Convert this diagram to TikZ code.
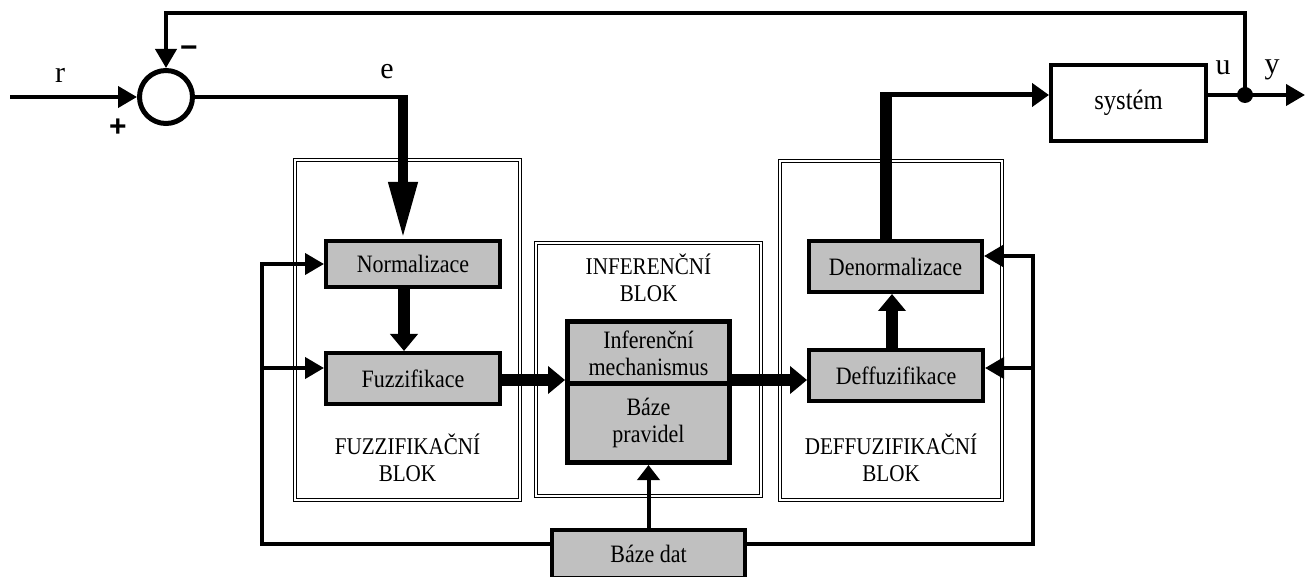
\documentclass[tikz,border=0pt]{standalone}
\usepackage{fontspec}
\setmainfont[FakeStretch=0.88]{Liberation Serif}
\newfontfamily\plainserif{Liberation Serif}
\newfontfamily\signfont{Liberation Sans}
\usetikzlibrary{arrows.meta}
\definecolor{boxgray}{HTML}{C0C0C0}
\newcommand{\fsz}[2]{\fontsize{#1pt}{#2pt}\selectfont}
\tikzset{
  gbox/.style={draw, line width=4pt, fill=boxgray, inner sep=0pt, align=center, font=\fsz{25}{27}},
  frame/.style={draw, double, double distance=2.5pt, line width=0.8pt, inner sep=0pt},
  blocklabel/.style={align=center, font=\fsz{24}{27}},
  sig/.style={font=\plainserif\fsz{30}{32}, inner sep=0pt},
  conn/.style={line width=4pt},
  arr/.style={-{Triangle[length=19pt,width=21pt]}},
  thickarr/.style={line width=12pt, -{Triangle[length=17pt,width=27pt]}},
  bigarr/.style={line width=10pt, -{Triangle[length=57pt,width=27pt]}},
}
\begin{document}
\begin{tikzpicture}[x=1pt, y=-1pt]
\useasboundingbox (0,0) rectangle (1312,577);

% frames
\node[frame, minimum width=225pt, minimum height=340pt] (ffr) at (407.5,330) {};
\node[frame, minimum width=225pt, minimum height=253pt] (ifr) at (648.5,369.5) {};
\node[frame, minimum width=222pt, minimum height=339pt] (dfr) at (891,330.5) {};

% block labels
\node[blocklabel] (fl) at (407.5,458) {FUZZIFIKAČNÍ\\BLOK};
\node[blocklabel] (il) at (648.5,278) {INFERENČNÍ\\BLOK};
\node[blocklabel] (dl) at (891,458) {DEFFUZIFIKAČNÍ\\BLOK};

% boxes
\node[gbox, minimum width=174pt, minimum height=46pt] (norm) at (413,264) {Normalizace};
\node[gbox, minimum width=174pt, minimum height=51pt] (fuzz) at (413,378.5) {Fuzzifikace};
\node[gbox, minimum width=173pt, minimum height=51pt] (denorm) at (895.5,266.5) {Denormalizace};
\node[gbox, minimum width=174pt, minimum height=51pt] (deffuz) at (896,375.5) {Deffuzifikace};
\node[gbox, line width=5pt, minimum width=162pt, minimum height=62.5pt] (inftop) at (648.5,353) {Inferenční\\mechanismus};
\node[gbox, line width=5pt, minimum width=162pt, minimum height=79.5pt] (infbot) at (648.5,422.75) {Báze\\pravidel};
\node[gbox, minimum width=193pt, minimum height=48pt] (bd) at (648.5,554) {Báze dat};
\node[draw, line width=4pt, inner sep=0pt, minimum width=155pt, minimum height=76pt, font=\fsz{28}{30}] (sys) at (1128.5,103) {systém};

% summing junction
\node[draw, circle, line width=5pt, minimum size=53pt, inner sep=0pt] (sum) at (166,97) {};
\node[circle, fill, minimum size=16pt, inner sep=0pt] (j) at (1245,95) {};

% helper coordinates
\coordinate (rin) at (10,97);
\coordinate (top) at (700,13);
\coordinate (ec) at (403,97);
\coordinate (nx) at (404,0);
\coordinate (my) at (0,380);
\coordinate (dx) at (892,0);
\coordinate (ux) at (886,0);
\coordinate (cy) at (0,95);
\coordinate (yout) at (1305,95);
\coordinate (lx) at (262,0);
\coordinate (rx) at (1033,0);
\coordinate (by) at (0,544);
\coordinate (fy) at (0,368);
\coordinate (dy) at (0,256);

% signals
\draw[conn, arr] (rin) -- (sum.west);
\draw[conn, arr] (j.center) |- (top) -| (sum.north);
\draw[line width=4.5pt] (sum.east) -- ([xshift=5pt]ec);
\draw[bigarr] ([yshift=2pt]ec) -- (ec |- norm.north);
\draw[thickarr] (norm.south -| nx) -- (fuzz.north -| nx);
\draw[thickarr] (fuzz.east |- my) -- (inftop.west |- my);
\draw[thickarr] (inftop.east |- my) -- (deffuz.west |- my);
\draw[thickarr] (deffuz.north -| dx) -- (denorm.south -| dx);
\draw[line width=12pt] (denorm.north -| ux) -- ([yshift=2.5pt]ux |- cy);
\draw[line width=5pt, -{Triangle[length=17pt,width=23pt]}] ([xshift=-6pt]ux |- cy) -- (sys.west |- cy);
\draw[conn, arr] (sys.east |- cy) -- (yout);

% data base feedback
\draw[conn, arr] (bd.west |- by) -| (lx |- norm.west) -- (norm.west);
\draw[conn, arr] (lx |- fy) -- (fuzz.west |- fy);
\draw[conn, arr] (bd.east |- by) -| (rx |- dy) -- (denorm.east |- dy);
\draw[conn, arr] (rx |- fy) -- (deffuz.east |- fy);
\draw[conn, -{Triangle[length=15pt,width=22pt]}] (bd.north) -- (infbot.south);

% labels
\node[sig] (lr) at (60,75) {r};
\node[sig] (le) at (387,72) {e};
\node[sig] (lu) at (1223,68) {u};
\node[sig] (ly) at (1272,70) {y};
\node[font=\signfont\bfseries\fsz{30}{32}, inner sep=0pt] (lp) at (118,128) {+};
\node[font=\signfont\bfseries\fsz{30}{32}, inner sep=0pt] (lm) at (189,52) {−};
\end{tikzpicture}
\end{document}
